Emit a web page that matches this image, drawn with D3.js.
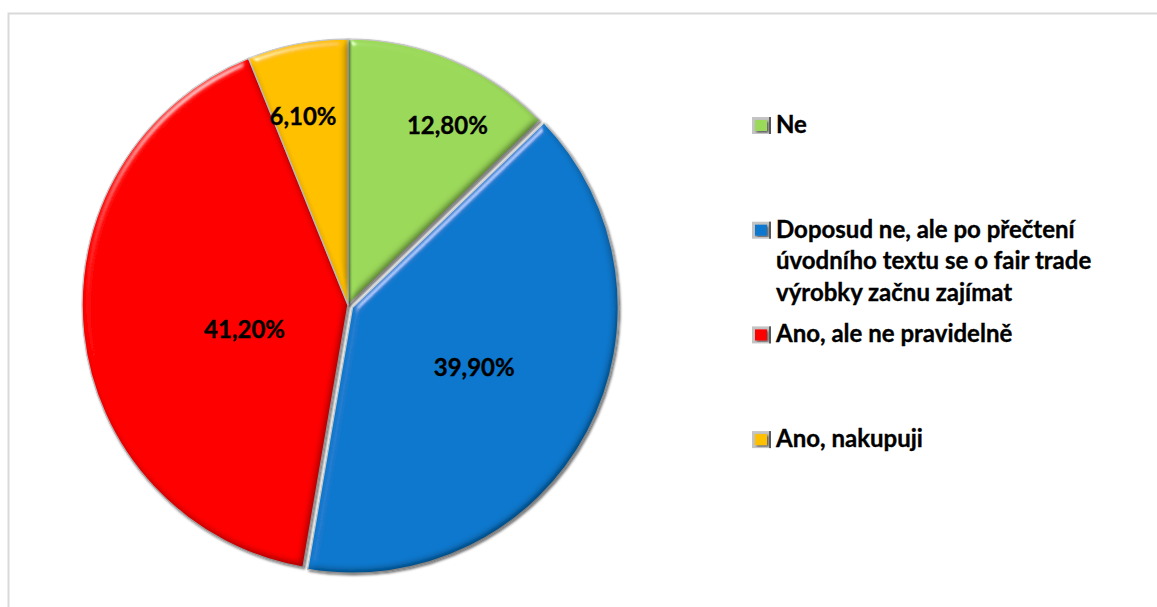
<!DOCTYPE html>
<html>
<head>
<meta charset="utf-8">
<script src="https://cdn.jsdelivr.net/npm/d3@7"></script>
<style>
  html, body { margin: 0; padding: 0; background: #fff; }
  svg { display: block; }
  text { font-family: Lato, "Open Sans", sans-serif; font-weight: 700; fill: #000; stroke: #000; stroke-width: 0.35px; }
</style>
</head>
<body>
<svg id="chart" width="1157" height="607"></svg>
<script>
// Survey answers: do you buy fair trade products?
const categories = [
  "Ne",
  "Doposud ne, ale po přečtení úvodního textu se o fair trade výrobky začnu zajímat",
  "Ano, ale ne pravidelně",
  "Ano, nakupuji"
];
const shares = [12.8, 39.9, 41.2, 6.1];
const colors = ["#9bd95a", "#0a78cd", "#ff0000", "#ffc000"];

const W = 1157, H = 607;
const cx = 348, cy = 305, R = 266;
// label anchor inside each slice: [fraction of the slice's sweep, fraction of radius]
const labelSpot = [[0.63, 0.77], [0.49, 0.53], [0.45, 0.40], [0.39, 0.73]];
const explode = [0, 5, 0, 0];

const svg = d3.select("#chart");
const defs = svg.append("defs");

// bevel: diffuse light multiplied in, specular highlight added along lit edges
const bevel = defs.append("filter").attr("id", "bevel")
  .attr("x", "-5%").attr("y", "-5%").attr("width", "110%").attr("height", "110%");
bevel.append("feGaussianBlur").attr("in", "SourceAlpha").attr("stdDeviation", 4).attr("result", "blur");
const diff = bevel.append("feDiffuseLighting").attr("in", "blur").attr("surfaceScale", 5)
  .attr("diffuseConstant", 1.16).attr("lighting-color", "#fff").attr("result", "diff");
diff.append("feDistantLight").attr("azimuth", 235).attr("elevation", 60);
const spec = bevel.append("feSpecularLighting").attr("in", "blur").attr("surfaceScale", 5)
  .attr("specularConstant", 0.7).attr("specularExponent", 60).attr("lighting-color", "#fff").attr("result", "spec");
spec.append("feDistantLight").attr("azimuth", 235).attr("elevation", 35);
bevel.append("feComposite").attr("in", "SourceGraphic").attr("in2", "diff")
  .attr("operator", "arithmetic").attr("k1", 1).attr("k2", 0).attr("k3", 0).attr("k4", 0).attr("result", "lit");
bevel.append("feComposite").attr("in", "spec").attr("in2", "SourceAlpha").attr("operator", "in").attr("result", "specIn");
bevel.append("feComposite").attr("in", "lit").attr("in2", "specIn")
  .attr("operator", "arithmetic").attr("k1", 0).attr("k2", 1).attr("k3", 0.6).attr("k4", 0).attr("result", "bev");
bevel.append("feComposite").attr("in", "bev").attr("in2", "SourceAlpha").attr("operator", "in");

// soft shadow under each slice
const shadow = defs.append("filter").attr("id", "shadow")
  .attr("x", "-10%").attr("y", "-10%").attr("width", "120%").attr("height", "120%");
shadow.append("feDropShadow").attr("dx", 1.5).attr("dy", 1.5).attr("stdDeviation", 1.3)
  .attr("flood-color", "#000").attr("flood-opacity", 0.55);

// chart area frame
svg.append("rect")
  .attr("x", 8.5).attr("y", 13.5).attr("width", W).attr("height", H)
  .attr("fill", "#fff").attr("stroke", "#d9d9d9").attr("stroke-width", 2);

const data = categories.map((c, i) => ({ name: c, value: shares[i], color: colors[i], idx: i }));

const pie = d3.pie().value(d => d.value).sort(null);
const arc = d3.arc().innerRadius(0).outerRadius(R);
const arcs = pie(data);

const g = svg.append("g").attr("transform", `translate(${cx},${cy})`);

const slice = g.selectAll("g.slice").data(arcs).join("g")
  .attr("class", "slice")
  .attr("transform", d => {
    const a = (d.startAngle + d.endAngle) / 2;
    const e = explode[d.data.idx];
    return `translate(${e * Math.sin(a)},${-e * Math.cos(a)})`;
  })
  .attr("filter", "url(#shadow)");

slice.append("path")
  .attr("d", arc)
  .attr("fill", d => d.data.color)
  .attr("stroke", "#c8c8c8")
  .attr("stroke-width", 1.5)
  .attr("stroke-linejoin", "round")
  .attr("filter", "url(#bevel)");

// value labels
const fmt = d3.formatLocale({ decimal: ",", thousands: " ", grouping: [3], currency: ["", ""] }).format(".2f");
g.selectAll("text.val").data(arcs).join("text")
  .attr("class", "val")
  .attr("transform", d => {
    const [t, f] = labelSpot[d.data.idx];
    const a = d.startAngle + t * (d.endAngle - d.startAngle);
    const r = R * f;
    return `translate(${r * Math.sin(a)},${-r * Math.cos(a)})`;
  })
  .attr("text-anchor", "middle")
  .attr("dy", "0.35em")
  .style("font-size", "24px")
  .text(d => fmt(d.data.value) + "%");

// legend
const legX = 752, legY0 = 133, legStep = 104.7, lineH = 31.6, maxW = 335;
const legend = svg.append("g");
data.forEach((d, i) => {
  const y = legY0 + i * legStep;
  const item = legend.append("g");
  // marker: grey bevelled frame with coloured face
  item.append("rect").attr("x", legX).attr("y", y - 16).attr("width", 19).attr("height", 17).attr("fill", "#c4c4c4");
  item.append("rect").attr("x", legX + 17).attr("y", y - 16).attr("width", 2).attr("height", 17).attr("fill", "#5a5a5a");
  item.append("rect").attr("x", legX + 3).attr("y", y - 13).attr("width", 12).attr("height", 11)
    .attr("fill", d.color).attr("filter", "url(#shadow)");
  const t = item.append("text").attr("x", legX + 24).attr("y", y).style("font-size", "24px");
  // wrap long names into lines
  const words = d.name.split(" ");
  let line = [], tspan = t.append("tspan").attr("x", legX + 24).attr("y", y), n = 0;
  words.forEach(w => {
    line.push(w);
    tspan.text(line.join(" "));
    if (tspan.node().getComputedTextLength() > maxW && line.length > 1) {
      line.pop();
      tspan.text(line.join(" "));
      line = [w];
      n++;
      tspan = t.append("tspan").attr("x", legX + 24).attr("y", y + n * lineH).text(w);
    }
  });
});
</script>
</body>
</html>
